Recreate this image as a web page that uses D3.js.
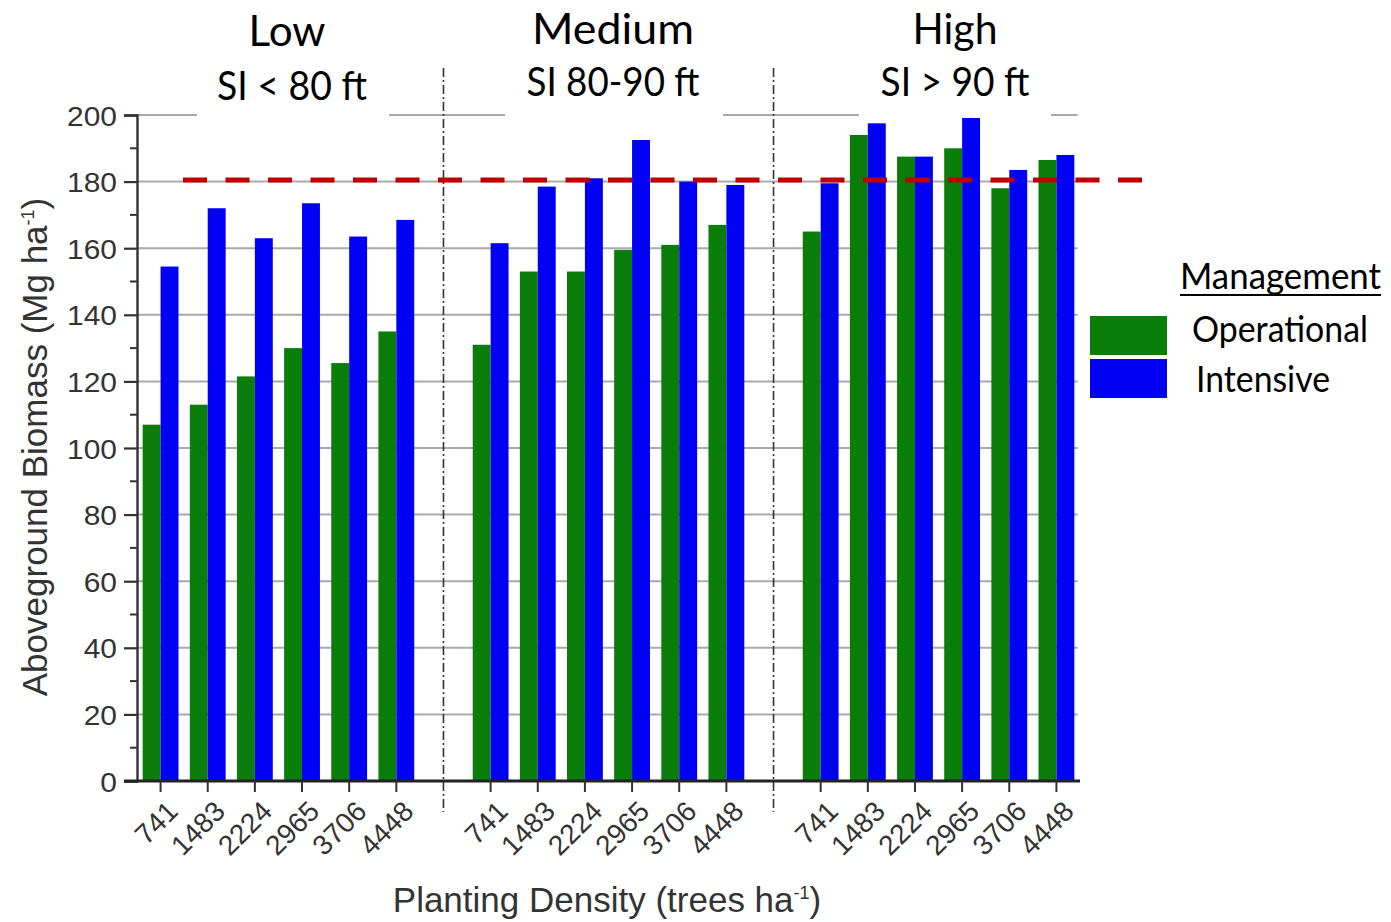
<!DOCTYPE html>
<html>
<head>
<meta charset="utf-8">
<script src="https://cdn.jsdelivr.net/npm/d3@7"></script>
<style>
  body { margin: 0; background: #fff; }
  svg { display: block; }
</style>
</head>
<body>
<div id="chart"></div>
<script>
// data
var densities = ["741", "1483", "2224", "2965", "3706", "4448"];
var siteGroups = ["Low", "Medium", "High"];
var siteLabels = ["SI < 80 ft", "SI 80-90 ft", "SI > 90 ft"];
var operational = [107, 113, 121.5, 130, 125.5, 135,
                   131, 153, 153, 159.5, 161, 167,
                   165, 194, 187.5, 190, 178, 186.5];
var intensive = [154.5, 172, 163, 173.5, 163.5, 168.5,
                 161.5, 178.5, 181, 192.5, 180, 179,
                 179.5, 197.5, 187.5, 200, 183.5, 188];
var yTicks = [0, 20, 40, 60, 80, 100, 120, 140, 160, 180, 200];
var targetLine = 180.5;
var seriesNames = ["Operational", "Intensive"];
var seriesColors = ["#0b7d0b", "#0000f5"];

var width = 1391;
var height = 922;

var svg = d3.select("#chart")
	.append("svg")
	.attr("width", width)
	.attr("height", height);

// slot numbering: each group has 6 densities and one empty slot as divider
function slot(i) {
	return Math.floor(i / 6) * 7 + (i % 6) + 1;
}

var xScale = d3.scaleLinear()
	.domain([0.5, 20.5])
	.range([137, 1080]);

var yScale = d3.scaleLinear()
	.domain([0, 200])
	.range([781, 115]);

var barW = xScale(0.38) - xScale(0);

// horizontal gridlines
svg.append("g")
	.selectAll("line")
	.data(yTicks.slice(1))
	.enter()
	.append("line")
	.attr("x1", xScale(0.5))
	.attr("x2", xScale(20.45))
	.attr("y1", function(d) { return yScale(d); })
	.attr("y2", function(d) { return yScale(d); })
	.attr("stroke", "#a9a9a9")
	.attr("stroke-width", 2);

// bars
var rows = [];
operational.forEach(function(v, i) {
	rows.push({ s: 0, i: i, v: v });
	rows.push({ s: 1, i: i, v: intensive[i] });
});

svg.append("g")
	.selectAll("rect")
	.data(rows)
	.enter()
	.append("rect")
	.attr("x", function(d) {
		return d.s == 0 ? xScale(slot(d.i)) - barW : xScale(slot(d.i));
	})
	.attr("y", function(d) { return yScale(d.v); })
	.attr("width", barW)
	.attr("height", function(d) { return yScale(0) - yScale(d.v); })
	.attr("fill", function(d) { return seriesColors[d.s]; });

// group dividers
svg.append("g")
	.selectAll("line")
	.data([7, 14])
	.enter()
	.append("line")
	.attr("x1", function(d) { return xScale(d); })
	.attr("x2", function(d) { return xScale(d); })
	.attr("y1", 68)
	.attr("y2", 812)
	.attr("stroke", "#333")
	.attr("stroke-width", 1.6)
	.attr("stroke-dasharray", "9,3,2,3");

// red target line
svg.append("line")
	.attr("x1", 183)
	.attr("x2", 1146)
	.attr("y1", yScale(targetLine))
	.attr("y2", yScale(targetLine))
	.attr("stroke", "#c00000")
	.attr("stroke-width", 5)
	.attr("stroke-dasharray", "24,18.5");

// y axis
var yAxis = d3.axisLeft(yScale)
	.tickValues(yTicks)
	.tickSize(13)
	.tickPadding(6);

var gy = svg.append("g")
	.attr("transform", "translate(" + xScale(0.5) + ",0)")
	.call(yAxis);
gy.select(".domain").attr("stroke", "#333").attr("stroke-width", 2.4);
gy.selectAll(".tick line").attr("stroke", "#333").attr("stroke-width", 2.2);
gy.selectAll(".tick text")
	.attr("fill", "#333")
	.style("font-family", "Liberation Sans, Arial, sans-serif")
	.style("font-size", "28px")
	.attr("x", 0)
	.attr("dy", "0.36em")
	.attr("transform", "translate(-20,0) scale(1.07,1)");

// minor ticks
svg.append("g")
	.selectAll("line")
	.data(d3.range(10, 200, 20))
	.enter()
	.append("line")
	.attr("x1", xScale(0.5) - 7)
	.attr("x2", xScale(0.5))
	.attr("y1", function(d) { return yScale(d); })
	.attr("y2", function(d) { return yScale(d); })
	.attr("stroke", "#333")
	.attr("stroke-width", 2);

// x axis
var allSlots = [];
var allLabels = [];
for (var i = 0; i < 18; i++) {
	allSlots.push(slot(i));
	allLabels.push(densities[i % 6]);
}

svg.append("line")
	.attr("x1", 124)
	.attr("x2", xScale(20.5))
	.attr("y1", yScale(0))
	.attr("y2", yScale(0))
	.attr("stroke", "#222")
	.attr("stroke-width", 3);

var xTicks = svg.append("g")
	.selectAll("g")
	.data(allSlots)
	.enter()
	.append("g");

xTicks.append("line")
	.attr("x1", function(d) { return xScale(d); })
	.attr("x2", function(d) { return xScale(d); })
	.attr("y1", yScale(0))
	.attr("y2", yScale(0) + 11)
	.attr("stroke", "#333")
	.attr("stroke-width", 2);

xTicks.append("text")
	.attr("transform", function(d) {
		return "translate(" + (xScale(d) + 19) + "," + 813 + ") rotate(-45)";
	})
	.attr("text-anchor", "end")
	.attr("fill", "#333")
	.style("font-family", "Liberation Sans, Arial, sans-serif")
	.style("font-size", "28px")
	.text(function(d, i) { return allLabels[i]; });

// axis titles
var yTitle = svg.append("text")
	.attr("transform", "translate(47,447) rotate(-90)")
	.attr("text-anchor", "middle")
	.attr("fill", "#333")
	.style("font-family", "Liberation Sans, Arial, sans-serif")
	.style("font-size", "35px");
yTitle.append("tspan").text("Aboveground Biomass (Mg ha");
yTitle.append("tspan").attr("dy", -13).style("font-size", "18px").text("-1");
yTitle.append("tspan").attr("dy", 13).text(")");

var xTitle = svg.append("text")
	.attr("transform", "translate(607,912)")
	.attr("text-anchor", "middle")
	.attr("fill", "#333")
	.style("font-family", "Liberation Sans, Arial, sans-serif")
	.style("font-size", "35px");
xTitle.append("tspan").text("Planting Density (trees ha");
xTitle.append("tspan").attr("dy", -13).style("font-size", "18px").text("-1");
xTitle.append("tspan").attr("dy", 13).text(")");

// white boxes behind the group titles
var boxes = [[197, 389, 122], [505, 723, 118], [859, 1051, 118]];
svg.append("g")
	.selectAll("rect")
	.data(boxes)
	.enter()
	.append("rect")
	.attr("x", function(d) { return d[0]; })
	.attr("y", 56)
	.attr("width", function(d) { return d[1] - d[0]; })
	.attr("height", function(d) { return d[2] - 56; })
	.attr("fill", "#fff");

// group titles
var titleX = [287, 613, 955];
var titleW = [77, 162, 85];
var subX = [292, 613, 955];
var subW = [150, 173, 149];
var titleY = [46, 44, 44];
var subY = [100, 96, 96];

siteGroups.forEach(function(g, i) {
	svg.append("text")
		.attr("x", titleX[i] - titleW[i] / 2)
		.attr("y", titleY[i])
		.attr("textLength", titleW[i])
		.attr("lengthAdjust", "spacingAndGlyphs")
		.style("font-family", "Lato, sans-serif")
		.style("font-size", "42px")
		.attr("fill", "#000")
		.text(g);
	svg.append("text")
		.attr("x", subX[i] - subW[i] / 2)
		.attr("y", subY[i])
		.attr("textLength", subW[i])
		.attr("lengthAdjust", "spacingAndGlyphs")
		.style("font-family", "Lato, sans-serif")
		.style("font-size", "40px")
		.attr("fill", "#000")
		.text(siteLabels[i]);
});

// legend
var legend = svg.append("g");
legend.append("text")
	.attr("x", 1180)
	.attr("y", 289)
	.attr("textLength", 201)
	.attr("lengthAdjust", "spacingAndGlyphs")
	.style("font-family", "Lato, sans-serif")
	.style("font-size", "36px")
	.text("Management");
legend.append("line")
	.attr("x1", 1180).attr("x2", 1381)
	.attr("y1", 295).attr("y2", 295)
	.attr("stroke", "#000").attr("stroke-width", 2);

var legY = [316, 359];
var legTextX = [1192, 1196];
var legTextY = [342, 392];
var legTextW = [176, 134];
seriesNames.forEach(function(n, i) {
	legend.append("rect")
		.attr("x", 1090)
		.attr("y", legY[i])
		.attr("width", 77)
		.attr("height", 39)
		.attr("fill", seriesColors[i]);
	legend.append("text")
		.attr("x", legTextX[i])
		.attr("y", legTextY[i])
		.attr("textLength", legTextW[i])
		.attr("lengthAdjust", "spacingAndGlyphs")
		.style("font-family", "Lato, sans-serif")
		.style("font-size", "36px")
		.text(n);
});
</script>
</body>
</html>
